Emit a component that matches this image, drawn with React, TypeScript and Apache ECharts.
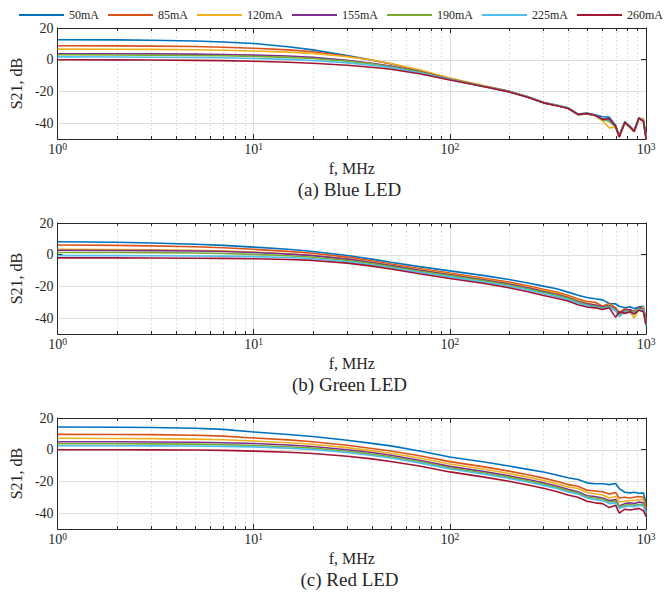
import React, { useEffect, useRef } from 'react';
import * as echarts from 'echarts';

// ---------- data ----------
const freqMHz = [1, 2, 3, 5, 7, 10, 15, 20, 30, 40, 50, 70, 100, 150, 200, 250, 300, 350, 400, 450, 500, 550, 600, 650, 700, 730, 780, 830, 870, 920, 970, 1000];
const currents = ['50mA', '85mA', '120mA', '155mA', '190mA', '225mA', '260mA'];
const lineColors = ['#0072BD', '#D95319', '#EDB120', '#7E2F8E', '#77AC30', '#4DBEEE', '#A2142F'];

// (a) Blue LED, S21 in dB
const blue50 = [12.6, 12.5, 12.3, 11.8, 11.2, 10.2, 8.2, 6.2, 2.6, -0.2, -2.6, -6.8, -12.0, -16.6, -19.8, -23.3, -26.8, -28.6, -30.3, -34.2, -33.6, -34.8, -36.0, -36.2, -41.5, -47.5, -39.0, -42.0, -44.5, -36.8, -38.0, -48.5];
const blue85 = [8.8, 8.7, 8.6, 8.3, 7.9, 7.2, 6.2, 5.0, 2.2, -0.3, -2.6, -6.6, -11.8, -16.7, -20.0, -23.6, -27.2, -28.9, -30.6, -34.6, -34.2, -35.2, -37.8, -38.0, -42.2, -48.2, -39.6, -42.6, -45.2, -37.2, -38.6, -49.0];
const blue120 = [6.7, 6.6, 6.5, 6.3, 6.0, 5.5, 4.8, 4.0, 1.9, -0.2, -2.4, -6.4, -11.6, -16.5, -19.9, -23.4, -27.0, -28.8, -30.5, -34.8, -34.0, -35.4, -38.5, -43.0, -42.5, -48.8, -39.8, -43.0, -45.5, -37.5, -37.0, -48.0];
const blue155 = [3.8, 3.8, 3.7, 3.5, 3.3, 2.9, 2.3, 1.5, -0.4, -2.2, -4.0, -7.4, -12.2, -16.9, -20.1, -23.6, -27.1, -28.9, -30.6, -34.5, -34.1, -35.0, -37.6, -37.5, -42.0, -48.5, -39.5, -42.5, -45.0, -37.0, -38.5, -49.0];
const blue190 = [3.1, 3.0, 2.9, 2.7, 2.5, 2.1, 1.5, 0.8, -0.9, -2.6, -4.4, -7.7, -12.3, -16.9, -20.1, -23.5, -27.0, -28.8, -30.4, -34.4, -34.0, -35.0, -37.8, -39.0, -42.3, -48.0, -39.2, -42.8, -44.8, -36.5, -38.2, -48.8];
const blue225 = [1.8, 1.7, 1.6, 1.4, 1.2, 0.8, 0.2, -0.5, -2.0, -3.5, -5.0, -8.2, -12.5, -17.0, -20.2, -23.6, -27.1, -28.9, -30.5, -34.6, -34.2, -35.1, -37.5, -37.8, -42.0, -48.3, -39.3, -42.4, -45.0, -37.0, -38.3, -49.0];
const blue260 = [0.0, -0.1, -0.2, -0.4, -0.6, -1.0, -1.6, -2.2, -3.5, -4.8, -6.0, -8.8, -12.8, -17.1, -20.3, -23.7, -27.2, -29.0, -30.6, -34.5, -34.0, -35.0, -37.6, -37.2, -42.0, -48.8, -39.5, -42.5, -45.2, -36.8, -38.8, -50.0];

// (b) Green LED
const green50 = [8.2, 7.9, 7.4, 6.6, 5.9, 4.8, 3.4, 2.0, -0.5, -2.8, -4.8, -7.5, -10.2, -13.2, -15.6, -17.8, -19.8, -21.5, -23.6, -25.6, -27.0, -27.8, -28.5, -30.8, -31.0, -32.5, -33.5, -32.8, -34.0, -33.0, -32.5, -42.5];
const green85 = [6.1, 5.9, 5.6, 5.0, 4.4, 3.4, 2.1, 0.9, -1.5, -3.8, -5.9, -8.7, -11.6, -14.8, -17.3, -19.6, -21.8, -23.5, -25.5, -28.0, -29.5, -30.0, -32.5, -30.8, -33.5, -36.5, -34.0, -35.0, -35.5, -34.0, -33.5, -40.5];
const green120 = [3.4, 3.3, 3.1, 2.8, 2.4, 1.7, 0.6, -0.4, -2.5, -4.6, -6.6, -9.4, -12.2, -15.5, -18.0, -20.4, -22.6, -24.3, -26.3, -29.0, -30.5, -31.5, -33.5, -31.5, -35.0, -38.0, -35.5, -36.0, -40.0, -34.5, -33.0, -43.0];
const green155 = [2.8, 2.7, 2.6, 2.3, 2.0, 1.4, 0.4, -0.6, -2.8, -4.9, -6.9, -9.8, -12.6, -15.9, -18.5, -20.9, -23.2, -24.9, -27.0, -29.5, -31.0, -31.8, -33.0, -32.0, -34.5, -37.0, -35.0, -34.5, -36.5, -33.0, -34.5, -43.5];
const green190 = [1.4, 1.4, 1.3, 1.1, 0.8, 0.2, -0.7, -1.6, -3.6, -5.6, -7.5, -10.4, -13.2, -16.5, -19.1, -21.5, -23.8, -25.5, -27.5, -30.0, -31.5, -32.5, -33.5, -32.5, -35.0, -38.5, -35.5, -36.0, -36.0, -34.0, -35.0, -44.0];
const green225 = [-0.6, -0.6, -0.7, -0.8, -0.9, -1.2, -1.8, -2.5, -4.4, -6.3, -8.2, -11.1, -14.0, -17.3, -19.9, -22.3, -24.6, -26.3, -28.2, -30.5, -32.0, -33.0, -34.0, -33.0, -35.5, -39.0, -36.0, -36.5, -37.0, -34.5, -35.0, -45.0];
const green260 = [-2.0, -2.0, -2.1, -2.2, -2.3, -2.5, -3.0, -3.6, -5.3, -7.2, -9.0, -12.0, -15.0, -18.2, -20.8, -23.3, -25.7, -27.4, -29.2, -31.5, -33.0, -33.5, -34.5, -33.5, -39.5, -36.0, -37.0, -36.0, -37.5, -35.0, -36.0, -44.0];

// (c) Red LED
const red50 = [14.3, 14.2, 14.0, 13.5, 12.8, 11.2, 9.6, 8.3, 6.0, 4.0, 2.4, -0.8, -4.6, -7.8, -10.3, -12.4, -14.1, -16.0, -17.7, -18.8, -20.9, -21.5, -21.5, -22.0, -21.3, -24.5, -26.8, -27.2, -26.8, -27.5, -27.2, -33.6];
const red85 = [9.7, 9.6, 9.5, 9.1, 8.6, 7.4, 6.2, 5.0, 2.8, 0.8, -0.8, -3.8, -7.5, -10.8, -13.5, -15.8, -17.9, -19.9, -22.0, -23.0, -25.5, -26.0, -26.5, -28.0, -27.0, -30.5, -30.0, -30.5, -30.0, -29.5, -30.0, -37.0];
const red120 = [7.2, 7.1, 7.0, 6.7, 6.3, 5.5, 4.4, 3.4, 1.3, -0.6, -2.2, -5.2, -9.0, -12.3, -15.0, -17.3, -19.4, -21.4, -23.5, -24.5, -27.0, -27.8, -28.5, -30.5, -29.5, -33.0, -32.5, -32.0, -32.0, -31.5, -31.5, -39.0];
const red155 = [5.0, 5.0, 4.9, 4.7, 4.4, 3.9, 3.0, 2.0, 0.0, -1.8, -3.5, -6.6, -10.5, -13.8, -16.5, -18.8, -20.9, -22.9, -25.0, -26.5, -29.0, -29.5, -30.5, -32.0, -31.5, -35.5, -34.0, -33.5, -34.0, -33.0, -33.5, -40.0];
const red190 = [3.8, 3.8, 3.7, 3.5, 3.2, 2.7, 1.9, 1.0, -1.0, -2.8, -4.4, -7.5, -11.4, -14.7, -17.3, -19.6, -21.7, -23.7, -25.8, -27.2, -29.8, -30.5, -31.2, -33.0, -32.5, -36.0, -35.0, -34.5, -35.0, -34.5, -34.5, -41.0];
const red225 = [2.5, 2.5, 2.4, 2.3, 2.1, 1.8, 1.0, 0.1, -1.8, -3.6, -5.2, -8.3, -12.2, -15.5, -18.1, -20.4, -22.5, -24.5, -26.6, -28.0, -30.5, -31.5, -32.0, -34.0, -33.5, -37.0, -36.0, -35.5, -36.0, -35.0, -35.5, -40.0];
const red260 = [0.0, 0.0, -0.1, -0.2, -0.4, -0.9, -1.6, -2.4, -4.1, -5.8, -7.4, -10.3, -14.0, -17.3, -19.9, -22.2, -24.3, -26.3, -28.5, -30.0, -32.5, -33.5, -34.0, -36.5, -35.0, -40.0, -37.5, -38.0, -37.5, -37.0, -38.5, -42.0];

const panelTitles = ['(a) Blue LED', '(b) Green LED', '(c) Red LED'];
const panelSeries = [
  [blue50, blue85, blue120, blue155, blue190, blue225, blue260],
  [green50, green85, green120, green155, green190, green225, green260],
  [red50, red85, red120, red155, red190, red225, red260],
];
const yTickValues = [-40, -20, 0, 20];
const minorFreqs = [2, 3, 4, 5, 6, 7, 8, 9, 20, 30, 40, 50, 60, 70, 80, 90, 200, 300, 400, 500, 600, 700, 800, 900];

// ---------- layout / style ----------
const FONT = '"Liberation Serif", "Times New Roman", serif';
const AX = '#262626';
const GRID_TOPS = [28, 223, 418];
const GRID_H = 111;
const GRID_LEFT = 53;
const GRID_RIGHT = 23;

function buildOption() {
  const grid: any[] = [];
  const xAxis: any[] = [];
  const yAxis: any[] = [];
  const series: any[] = [];
  const graphic: any[] = [];

  GRID_TOPS.forEach((top, i) => {
    grid.push({ left: GRID_LEFT, right: GRID_RIGHT, top, height: GRID_H, containLabel: false });
    // bottom x
    xAxis.push({
      type: 'log', logBase: 10, gridIndex: i, min: 1, max: 1000, position: 'bottom',
      axisLine: { show: true, onZero: false, lineStyle: { color: AX, width: 1 } },
      axisTick: { show: true, inside: true, length: 5, lineStyle: { color: AX, width: 1 } },
      minorTick: { show: false },
      axisLabel: {
        margin: 3,
        color: AX,
        formatter: (v: number) => `{b|10}{s|${Math.round(Math.log10(v))}}`,
        rich: {
          b: { fontFamily: FONT, fontSize: 14, color: AX, lineHeight: 14, padding: [5, 0, 0, 0], verticalAlign: 'bottom' },
          s: { fontFamily: FONT, fontSize: 9.5, color: AX, lineHeight: 10, verticalAlign: 'top' },
        },
      },
      splitLine: { show: true, lineStyle: { color: '#dedede', width: 1 } },
      name: 'f, MHz', nameLocation: 'middle', nameGap: 21,
      nameTextStyle: { fontFamily: FONT, fontSize: 16, color: AX },
    });
    // top x (box)
    xAxis.push({
      type: 'log', logBase: 10, gridIndex: i, min: 1, max: 1000, position: 'top',
      axisLine: { show: true, onZero: false, lineStyle: { color: AX, width: 1 } },
      axisTick: { show: true, inside: true, length: 5, lineStyle: { color: AX, width: 1 } },
      axisLabel: { show: false },
      splitLine: { show: false },
    });
    // left y
    yAxis.push({
      type: 'value', gridIndex: i, min: -50, max: 20, position: 'left',
      axisLine: { show: true, onZero: false, lineStyle: { color: AX, width: 1 } },
      axisTick: { show: true, inside: true, length: 5, customValues: yTickValues, lineStyle: { color: AX, width: 1 } },
      axisLabel: { customValues: yTickValues, fontFamily: FONT, fontSize: 14, color: AX, margin: 4 },
      splitLine: { show: false },
      name: 'S21, dB', nameLocation: 'middle', nameGap: 30, nameRotate: 90,
      nameTextStyle: { fontFamily: FONT, fontSize: 16, color: AX },
    });
    // right y (box)
    yAxis.push({
      type: 'value', gridIndex: i, min: -50, max: 20, position: 'right',
      axisLine: { show: true, onZero: false, lineStyle: { color: AX, width: 1 } },
      axisTick: { show: true, inside: true, length: 5, customValues: yTickValues, lineStyle: { color: AX, width: 1 } },
      axisLabel: { show: false },
      splitLine: { show: false },
    });

    // minor log grid + minor ticks
    series.push({
      type: 'custom', xAxisIndex: 2 * i, yAxisIndex: 2 * i, silent: true, z: 1, clip: false,
      data: minorFreqs.map((f) => [f, -50]),
      encode: { x: 0, y: 1 },
      renderItem: (params: any, api: any) => {
        const p = api.coord([api.value(0), api.value(1)]);
        const cs = params.coordSys;
        const x = Math.round(p[0]) + 0.5;
        const y0 = cs.y;
        const y1 = cs.y + cs.height;
        return {
          type: 'group',
          children: [
            { type: 'line', shape: { x1: x, y1: y0, x2: x, y2: y1 }, style: { stroke: '#cfcfcf', lineWidth: 0.8, lineDash: [1.5, 2.5] } },
            { type: 'line', shape: { x1: x, y1: y1, x2: x, y2: y1 - 3 }, style: { stroke: AX, lineWidth: 1 } },
            { type: 'line', shape: { x1: x, y1: y0, x2: x, y2: y0 + 3 }, style: { stroke: AX, lineWidth: 1 } },
          ],
        };
      },
    });
    // horizontal grid lines at y ticks
    series.push({
      type: 'custom', xAxisIndex: 2 * i, yAxisIndex: 2 * i, silent: true, z: 1, clip: false,
      data: yTickValues.filter((v) => v < 20).map((v) => [1, v]),
      encode: { x: 0, y: 1 },
      renderItem: (params: any, api: any) => {
        const p = api.coord([api.value(0), api.value(1)]);
        const cs = params.coordSys;
        const y = Math.round(p[1]) + 0.5;
        return { type: 'line', shape: { x1: cs.x, y1: y, x2: cs.x + cs.width, y2: y }, style: { stroke: '#dedede', lineWidth: 1 } };
      },
    });

    panelSeries[i].forEach((vals, k) => {
      series.push({
        type: 'line', name: currents[k], xAxisIndex: 2 * i, yAxisIndex: 2 * i,
        data: freqMHz.map((f, j) => [f, vals[j]]),
        showSymbol: false, symbol: 'none', z: 3,
        lineStyle: { color: lineColors[k], width: 1.6 },
        itemStyle: { color: lineColors[k] },
      });
    });

    graphic.push({
      type: 'text', left: 'center', x: 0, top: top + GRID_H + 40,
      style: { text: panelTitles[i], font: `19px ${FONT}`, fill: AX },
    });
  });

  return {
    animation: false,
    backgroundColor: '#ffffff',
    legend: {
      data: currents, top: 4, left: 14, icon: 'rect', itemWidth: 45, itemHeight: 2, itemGap: 9,
      textStyle: { fontFamily: FONT, fontSize: 12, color: AX },
    },
    grid, xAxis, yAxis, series, graphic,
  };
}

export default function App() {
  const ref = useRef<HTMLDivElement>(null);
  useEffect(() => {
    if (!ref.current) return;
    const chart = echarts.init(ref.current, undefined, { renderer: 'svg' });
    const opt: any = buildOption();
    // center the captions over the plot area
    opt.graphic = opt.graphic.map((g: any) => ({
      type: 'text',
      x: GRID_LEFT + (669 - GRID_LEFT - GRID_RIGHT) / 2,
      y: g.top + 10,
      style: { text: g.style.text, font: g.style.font, fill: g.style.fill, textAlign: 'center', textVerticalAlign: 'middle' },
    }));
    chart.setOption(opt);
    return () => chart.dispose();
  }, []);
  return <div ref={ref} style={{ width: 669, height: 595, position: 'absolute', left: 0, top: 0 }} />;
}
